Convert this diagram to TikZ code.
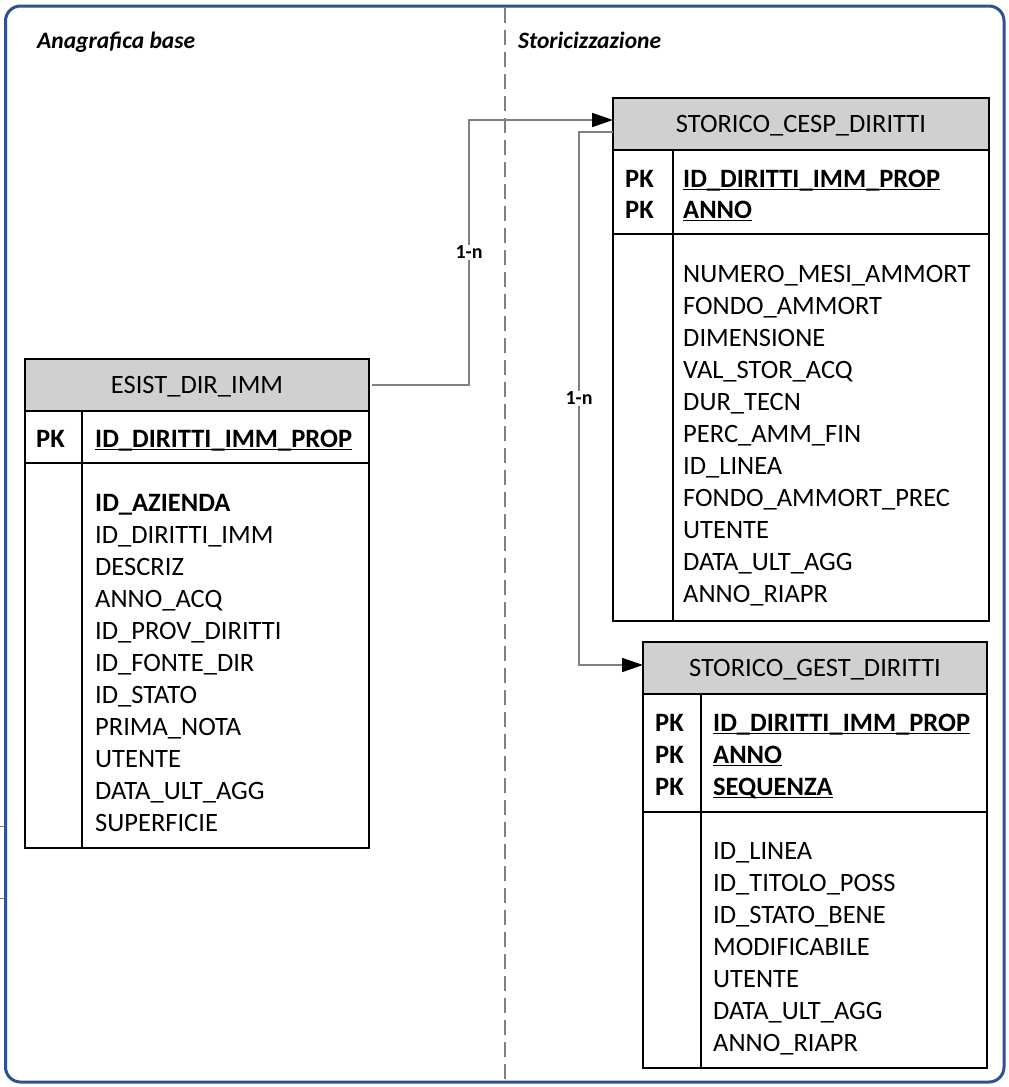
\documentclass[tikz,border=0pt]{standalone}
\usepackage{fontspec}
\setmainfont{Carlito}
\usetikzlibrary{positioning,arrows.meta}
\definecolor{framebl}{HTML}{2F5190}
\definecolor{hdrgray}{HTML}{D0D0D0}
\definecolor{linkgray}{HTML}{808080}
\newcommand{\pkline}[1]{\setbox0\hbox{#1}\rlap{\rule[-0.13em]{\wd0}{0.065em}}\box0}
\begin{document}
\begin{tikzpicture}[x=1pt, y=-1pt, font=\fontsize{26.5}{32}\selectfont,
	hdr/.style={draw, line width=2.2pt, fill=hdrgray, outer sep=0pt, text depth=0pt, minimum height=52},
	tbox/.style={draw, line width=2.2pt, outer sep=0pt},
	row/.style={anchor=base west, inner sep=0pt},
	key/.style={row, font=\fontsize{26.5}{32}\selectfont\bfseries},
	link/.style={draw=linkgray, line width=1.6pt},
	tip/.style={-{Triangle[length=21pt, width=14pt, color=black]}},
	card/.style={fill=white, inner sep=1pt, font=\fontsize{20}{24}\selectfont\bfseries},
	section/.style={anchor=base west, inner sep=0pt, font=\fontsize{23.5}{28}\selectfont\bfseries\itshape}]
	\useasboundingbox (0,0) rectangle (1009,1087);
	%frame
	\draw[linkgray, line width=1pt] (0,826) -- (7,826) (0,898) -- (7,898);
	\draw[framebl, line width=3pt, rounded corners=15pt] (5.5,6) rectangle (1004,1082);
	\draw[linkgray, line width=1.6pt, dash pattern=on 15pt off 7pt] (505,7.5) -- (505,1080);
	%sections
	\node[section] (base) at (37,48) {Anagrafica base};
	\node[section] (stor) at (518,48) {Storicizzazione};
	%ESIST_DIR_IMM
	\node[hdr, minimum width=344] (esist) at (197,385) {ESIST\_DIR\_IMM};
	\node[tbox, minimum width=344, minimum height=52, below=0pt of esist] (esistpk) {};
	\node[tbox, minimum width=344, minimum height=385, below=0pt of esistpk] (esistattr) {};
	\draw[line width=2.2pt] ([xshift=57pt]esistpk.north west) -- ([xshift=57pt]esistattr.south west);
	\node[key] (esistk1) at (36,447) {PK};
	\node[key] (esistp1) at (95,447) {\pkline{ID\_DIRITTI\_IMM\_PROP}};
	\node[key] (esista0) at (95,511) {ID\_AZIENDA};
	\foreach \t [count=\i] in {ID\_DIRITTI\_IMM, DESCRIZ, ANNO\_ACQ, ID\_PROV\_DIRITTI,
		ID\_FONTE\_DIR, ID\_STATO, PRIMA\_NOTA, UTENTE, DATA\_ULT\_AGG, SUPERFICIE}
	\node[row] (esista\i) at (95,511+32*\i) {\t};
	%STORICO_CESP_DIRITTI
	\node[hdr, minimum width=376] (cesp) at (801,124) {STORICO\_CESP\_DIRITTI};
	\node[tbox, minimum width=376, minimum height=84, below=0pt of cesp] (cesppk) {};
	\node[tbox, minimum width=376, minimum height=387, below=0pt of cesppk] (cespattr) {};
	\draw[line width=2.2pt] ([xshift=60pt]cesppk.north west) -- ([xshift=60pt]cespattr.south west);
	\foreach \t [count=\i from 0] in {ID\_DIRITTI\_IMM\_PROP, ANNO}
	{
		\node[key] (cespk\i) at (625,187+31*\i) {PK};
		\node[key] (cespp\i) at (683,187+31*\i) {\pkline{\t}};
	}
	\foreach \t [count=\i from 0] in {NUMERO\_MESI\_AMMORT, FONDO\_AMMORT, DIMENSIONE,
		VAL\_STOR\_ACQ, DUR\_TECN, PERC\_AMM\_FIN, ID\_LINEA, FONDO\_AMMORT\_PREC,
		UTENTE, DATA\_ULT\_AGG, ANNO\_RIAPR}
	\node[row] (cespa\i) at (683,282+32*\i) {\t};
	%STORICO_GEST_DIRITTI
	\node[hdr, minimum width=344] (gest) at (815,668) {STORICO\_GEST\_DIRITTI};
	\node[tbox, minimum width=344, minimum height=118, below=0pt of gest] (gestpk) {};
	\node[tbox, minimum width=344, minimum height=256, below=0pt of gestpk] (gestattr) {};
	\draw[line width=2.2pt] ([xshift=58pt]gestpk.north west) -- ([xshift=58pt]gestattr.south west);
	\foreach \t [count=\i from 0] in {ID\_DIRITTI\_IMM\_PROP, ANNO, SEQUENZA}
	{
		\node[key] (gestk\i) at (655,731+32*\i) {PK};
		\node[key] (gestp\i) at (713,731+32*\i) {\pkline{\t}};
	}
	\foreach \t [count=\i from 0] in {ID\_LINEA, ID\_TITOLO\_POSS, ID\_STATO\_BENE,
		MODIFICABILE, UTENTE, DATA\_ULT\_AGG, ANNO\_RIAPR}
	\node[row] (gesta\i) at (713,859+32*\i) {\t};
	%links
	\draw[link, tip] ([xshift=3pt]esist.east) -- ++(97,0) |- node[card, pos=0.25] (card1) {1-n} ([yshift=4pt]cesp.west);
	\draw[link, tip] ([yshift=-8pt]cesp.west) -- (579,132) |- node[card, pos=0.25] (card2) {1-n} ([yshift=3pt]gest.west);
\end{tikzpicture}
\end{document}
